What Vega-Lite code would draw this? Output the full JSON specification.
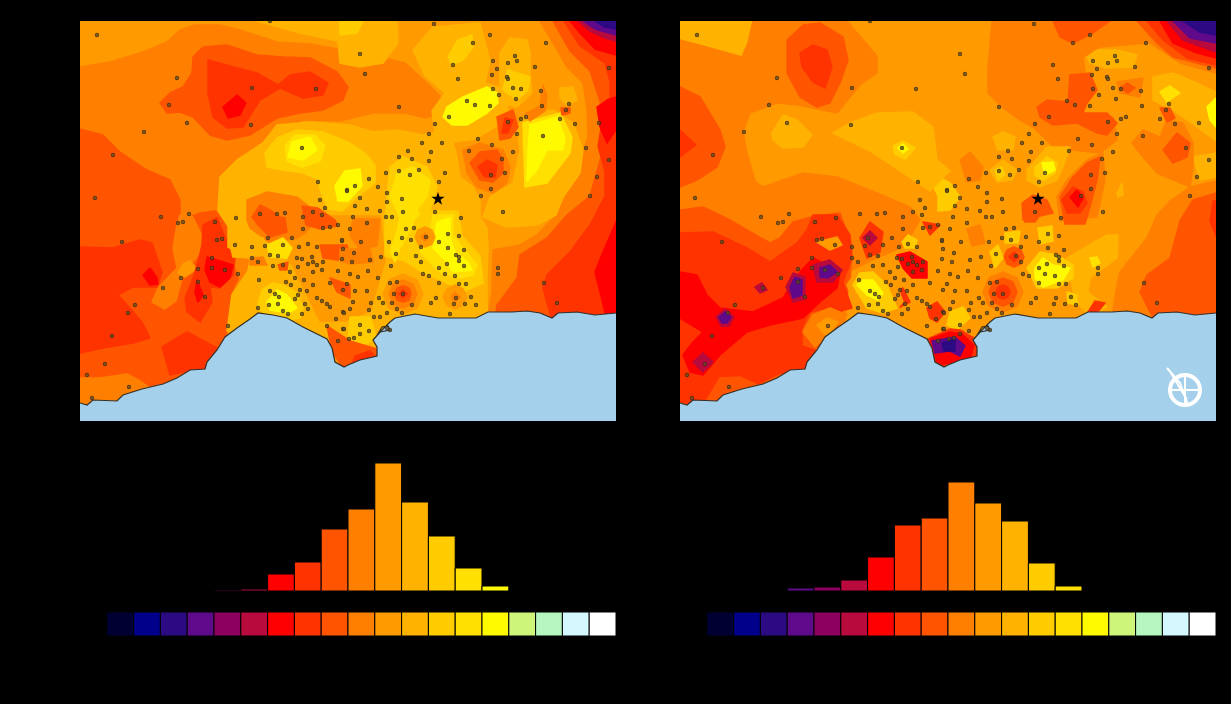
{"$schema":"https://vega.github.io/schema/vega-lite/v6.json","background":"#000000","padding":{"left":80,"top":21,"right":15,"bottom":68},"bounds":"flush","config":{"view":{"stroke":null}},"datasets":{
"page":[{"type":"Feature","geometry":{"type":"Polygon","coordinates":[[[-80,-21],[-77,-21],[-77,683],[-80,683],[-80,-21]]]}},{"type":"Feature","geometry":{"type":"Polygon","coordinates":[[[-80,-21],[1151,-21],[1151,-15],[-80,-15],[-80,-21]]]}}],
"sea":[{"type":"Feature","geometry":{"type":"Polygon","coordinates":[[[0,382],[7,384],[13,379],[37,380],[43,374],[62,368],[83,363],[97,357],[110,349],[125,348],[127,341],[137,329],[145,316],[157,307],[170,298],[178,292],[193,294],[207,297],[223,306],[247,318],[252,327],[255,341],[264,346],[268,344],[280,339],[297,335],[297,326],[293,319],[302,309],[310,301],[315,297],[335,293],[358,297],[377,297],[396,297],[408,291],[432,291],[447,290],[460,292],[472,297],[478,292],[497,291],[515,294],[536,292],[536,400],[0,400],[0,382]]]}}],
"coast":[{"type":"Feature","geometry":{"type":"MultiLineString","coordinates":[[[0,382],[7,384],[13,379],[37,380],[43,374],[62,368],[83,363],[97,357],[110,349],[125,348],[127,341],[137,329],[145,316],[157,307],[170,298],[178,292],[193,294],[207,297],[223,306],[247,318],[252,327],[255,341],[264,346],[268,344],[280,339],[297,335],[297,326],[293,319],[302,309],[310,301],[315,297],[335,293],[358,297],[377,297],[396,297],[408,291],[432,291],[447,290],[460,292],[472,297],[478,292],[497,291],[515,294],[536,292]],[[293,319],[300,311],[310,309],[308,305],[302,306],[296,316]]]}}],
"compass":[{"type":"Feature","geometry":{"type":"MultiLineString","coordinates":[[[487,347],[500,362],[508,384]],[[491,352],[504,374],[507,378]],[[505,353],[505,385]],[[489,369],[521,369]]]}}],
"compassCentre":[{"x":505,"y":369}],
"star":[{"x":358,"y":178}],
"stations":[{"x":17,"y":14},{"x":97,"y":57},{"x":89,"y":84},{"x":107,"y":102},{"x":64,"y":111},{"x":33,"y":134},{"x":15,"y":177},{"x":190,"y":0},{"x":172,"y":67},{"x":236,"y":68},{"x":171,"y":104},{"x":222,"y":127},{"x":238,"y":161},{"x":267,"y":169},{"x":240,"y":179},{"x":245,"y":187},{"x":109,"y":193},{"x":81,"y":196},{"x":156,"y":197},{"x":180,"y":193},{"x":197,"y":193},{"x":205,"y":192},{"x":223,"y":196},{"x":233,"y":191},{"x":242,"y":194},{"x":354,"y":3},{"x":410,"y":14},{"x":466,"y":22},{"x":393,"y":22},{"x":280,"y":33},{"x":435,"y":35},{"x":437,"y":40},{"x":413,"y":40},{"x":428,"y":42},{"x":373,"y":44},{"x":455,"y":46},{"x":417,"y":48},{"x":529,"y":47},{"x":285,"y":53},{"x":412,"y":54},{"x":427,"y":56},{"x":428,"y":58},{"x":378,"y":58},{"x":433,"y":67},{"x":441,"y":68},{"x":413,"y":68},{"x":461,"y":70},{"x":419,"y":74},{"x":436,"y":78},{"x":387,"y":80},{"x":395,"y":84},{"x":410,"y":85},{"x":462,"y":85},{"x":489,"y":83},{"x":319,"y":86},{"x":486,"y":89},{"x":369,"y":96},{"x":441,"y":98},{"x":446,"y":96},{"x":480,"y":98},{"x":428,"y":101},{"x":355,"y":103},{"x":495,"y":103},{"x":519,"y":102},{"x":349,"y":113},{"x":437,"y":113},{"x":463,"y":115},{"x":398,"y":118},{"x":342,"y":122},{"x":362,"y":122},{"x":412,"y":124},{"x":506,"y":127},{"x":389,"y":130},{"x":433,"y":131},{"x":328,"y":130},{"x":351,"y":131},{"x":319,"y":136},{"x":332,"y":138},{"x":422,"y":138},{"x":529,"y":139},{"x":349,"y":140},{"x":319,"y":150},{"x":339,"y":149},{"x":306,"y":152},{"x":330,"y":154},{"x":365,"y":152},{"x":425,"y":152},{"x":411,"y":154},{"x":517,"y":156},{"x":289,"y":158},{"x":359,"y":161},{"x":275,"y":165},{"x":298,"y":166},{"x":267,"y":170},{"x":411,"y":168},{"x":307,"y":172},{"x":280,"y":177},{"x":322,"y":178},{"x":401,"y":175},{"x":510,"y":175},{"x":307,"y":181},{"x":275,"y":185},{"x":287,"y":188},{"x":300,"y":190},{"x":323,"y":191},{"x":355,"y":191},{"x":423,"y":191},{"x":273,"y":196},{"x":306,"y":196},{"x":312,"y":196},{"x":381,"y":197},{"x":98,"y":202},{"x":103,"y":201},{"x":135,"y":201},{"x":42,"y":221},{"x":137,"y":219},{"x":142,"y":218},{"x":155,"y":224},{"x":172,"y":226},{"x":185,"y":225},{"x":203,"y":224},{"x":188,"y":217},{"x":212,"y":217},{"x":223,"y":208},{"x":243,"y":207},{"x":250,"y":206},{"x":258,"y":204},{"x":190,"y":234},{"x":198,"y":235},{"x":219,"y":226},{"x":228,"y":223},{"x":237,"y":226},{"x":262,"y":220},{"x":172,"y":237},{"x":178,"y":241},{"x":193,"y":245},{"x":203,"y":244},{"x":217,"y":237},{"x":222,"y":238},{"x":232,"y":236},{"x":233,"y":241},{"x":228,"y":243},{"x":237,"y":244},{"x":243,"y":241},{"x":218,"y":246},{"x":210,"y":251},{"x":233,"y":251},{"x":242,"y":249},{"x":258,"y":250},{"x":132,"y":237},{"x":132,"y":247},{"x":145,"y":249},{"x":118,"y":248},{"x":158,"y":253},{"x":101,"y":257},{"x":83,"y":267},{"x":118,"y":261},{"x":125,"y":276},{"x":55,"y":284},{"x":48,"y":292},{"x":32,"y":315},{"x":179,"y":259},{"x":206,"y":261},{"x":211,"y":264},{"x":215,"y":257},{"x":224,"y":259},{"x":233,"y":264},{"x":250,"y":262},{"x":220,"y":269},{"x":227,"y":270},{"x":218,"y":274},{"x":215,"y":278},{"x":190,"y":270},{"x":195,"y":273},{"x":199,"y":276},{"x":237,"y":277},{"x":242,"y":280},{"x":247,"y":283},{"x":250,"y":286},{"x":225,"y":283},{"x":228,"y":288},{"x":189,"y":284},{"x":198,"y":283},{"x":178,"y":287},{"x":203,"y":290},{"x":222,"y":293},{"x":263,"y":291},{"x":256,"y":298},{"x":247,"y":305},{"x":263,"y":308},{"x":148,"y":305},{"x":258,"y":320},{"x":25,"y":343},{"x":7,"y":354},{"x":49,"y":366},{"x":12,"y":377},{"x":208,"y":293},{"x":287,"y":202},{"x":270,"y":208},{"x":262,"y":219},{"x":281,"y":221},{"x":326,"y":208},{"x":334,"y":207},{"x":322,"y":217},{"x":331,"y":219},{"x":346,"y":216},{"x":368,"y":213},{"x":379,"y":215},{"x":359,"y":221},{"x":309,"y":221},{"x":341,"y":226},{"x":368,"y":227},{"x":384,"y":229},{"x":263,"y":228},{"x":274,"y":232},{"x":290,"y":239},{"x":301,"y":236},{"x":316,"y":233},{"x":336,"y":235},{"x":376,"y":234},{"x":379,"y":236},{"x":379,"y":240},{"x":341,"y":241},{"x":367,"y":243},{"x":384,"y":245},{"x":272,"y":241},{"x":262,"y":238},{"x":311,"y":245},{"x":359,"y":247},{"x":418,"y":247},{"x":418,"y":253},{"x":288,"y":250},{"x":270,"y":253},{"x":278,"y":256},{"x":298,"y":257},{"x":343,"y":253},{"x":349,"y":255},{"x":365,"y":253},{"x":375,"y":255},{"x":310,"y":262},{"x":317,"y":261},{"x":359,"y":262},{"x":379,"y":263},{"x":386,"y":263},{"x":464,"y":262},{"x":267,"y":263},{"x":263,"y":269},{"x":275,"y":270},{"x":287,"y":270},{"x":314,"y":273},{"x":323,"y":273},{"x":299,"y":277},{"x":273,"y":281},{"x":291,"y":282},{"x":303,"y":282},{"x":312,"y":282},{"x":332,"y":284},{"x":351,"y":282},{"x":356,"y":277},{"x":376,"y":277},{"x":391,"y":276},{"x":374,"y":283},{"x":385,"y":283},{"x":396,"y":284},{"x":477,"y":282},{"x":270,"y":288},{"x":289,"y":289},{"x":317,"y":288},{"x":322,"y":292},{"x":264,"y":292},{"x":307,"y":292},{"x":294,"y":296},{"x":300,"y":296},{"x":370,"y":293},{"x":280,"y":304},{"x":264,"y":308},{"x":289,"y":310},{"x":280,"y":313},{"x":269,"y":318},{"x":274,"y":317},{"x":307,"y":307},{"x":310,"y":309}],
"mapA":[
{"type":"Feature","properties":{"l":11},"geometry":{"type":"Polygon","coordinates":[[[0,0],[536,0],[536,400],[0,400],[0,0]]]}},
{"type":"Feature","properties":{"l":10},"geometry":{"type":"Polygon","coordinates":[[[0,46],[30,41],[63,31],[87,21],[100,9],[115,4],[140,4],[160,9],[197,21],[230,23],[270,30],[300,36],[325,42],[345,60],[360,75],[362,92],[345,97],[325,92],[293,92],[260,100],[223,99],[187,117],[157,139],[138,159],[140,189],[148,205],[148,226],[170,238],[168,250],[152,274],[147,310],[130,360],[0,400],[0,46]]]}},
{"type":"Feature","properties":{"l":9},"geometry":{"type":"Polygon","coordinates":[[[0,108],[23,114],[40,131],[67,149],[90,159],[100,179],[100,200],[120,192],[135,190],[148,198],[152,212],[148,228],[154,245],[158,258],[150,274],[147,307],[145,330],[130,360],[0,400],[0,108]]]}},
{"type":"Feature","properties":{"l":10},"geometry":{"type":"Polygon","coordinates":[[[100,194],[97,204],[93,227],[97,247],[78,267],[72,281],[85,288],[96,280],[103,254],[120,232],[122,215],[113,196],[100,194]]]}},
{"type":"Feature","properties":{"l":11},"geometry":{"type":"Polygon","coordinates":[[[103,243],[110,240],[117,248],[105,256],[98,252],[103,243]]]}},
{"type":"Feature","properties":{"l":8},"geometry":{"type":"Polygon","coordinates":[[[0,226],[33,227],[60,219],[72,222],[82,251],[77,266],[53,266],[38,274],[47,284],[62,301],[70,317],[53,322],[23,327],[0,332],[0,226]]]}},
{"type":"Feature","properties":{"l":8},"geometry":{"type":"Polygon","coordinates":[[[82,326],[107,311],[137,327],[125,341],[125,351],[103,351],[90,354],[82,326]]]}},
{"type":"Feature","properties":{"l":10},"geometry":{"type":"Polygon","coordinates":[[[0,357],[20,357],[47,353],[60,360],[70,367],[60,385],[0,392],[0,357]]]}},
{"type":"Feature","properties":{"l":7},"geometry":{"type":"Polygon","coordinates":[[[70,247],[77,257],[78,263],[70,264],[63,254],[70,247]]]}},
{"type":"Feature","properties":{"l":8},"geometry":{"type":"Polygon","coordinates":[[[123,204],[137,197],[147,221],[155,237],[153,254],[140,267],[130,266],[132,281],[120,301],[107,291],[105,277],[113,257],[118,241],[122,224],[123,204]]]}},
{"type":"Feature","properties":{"l":7},"geometry":{"type":"Polygon","coordinates":[[[127,236],[153,244],[150,257],[140,266],[130,261],[125,249],[127,236]]]}},
{"type":"Feature","properties":{"l":7},"geometry":{"type":"Polygon","coordinates":[[[117,259],[123,274],[118,281],[115,272],[117,259]]]}},
{"type":"Feature","properties":{"l":9},"geometry":{"type":"Polygon","coordinates":[[[80,82],[90,72],[103,66],[112,52],[113,36],[123,26],[147,24],[177,34],[203,36],[230,37],[257,51],[268,66],[263,79],[243,89],[220,92],[197,97],[170,114],[147,119],[130,114],[113,96],[100,91],[87,92],[80,82]]]}},
{"type":"Feature","properties":{"l":8},"geometry":{"type":"Polygon","coordinates":[[[128,39],[177,52],[198,64],[210,54],[230,51],[248,62],[243,74],[223,77],[200,67],[180,79],[163,106],[147,107],[133,96],[128,72],[128,39]]]}},
{"type":"Feature","properties":{"l":7},"geometry":{"type":"Polygon","coordinates":[[[143,86],[157,74],[166,82],[160,94],[148,97],[143,86]]]}},
{"type":"Feature","properties":{"l":12},"geometry":{"type":"Polygon","coordinates":[[[177,0],[317,0],[318,22],[303,42],[280,46],[260,42],[258,20],[220,12],[177,0]]]}},
{"type":"Feature","properties":{"l":13},"geometry":{"type":"Polygon","coordinates":[[[260,0],[283,0],[277,12],[260,14],[260,0]]]}},
{"type":"Feature","properties":{"l":10},"geometry":{"type":"Polygon","coordinates":[[[460,0],[473,22],[487,46],[503,62],[507,89],[508,116],[500,142],[493,162],[480,186],[473,197],[457,214],[440,224],[413,229],[412,270],[408,295],[536,300],[536,0],[460,0]]]}},
{"type":"Feature","properties":{"l":9},"geometry":{"type":"Polygon","coordinates":[[[473,0],[490,30],[510,50],[520,80],[525,110],[520,140],[510,175],[487,194],[467,217],[440,234],[437,257],[417,284],[415,300],[536,300],[536,0],[473,0]]]}},
{"type":"Feature","properties":{"l":8},"geometry":{"type":"Polygon","coordinates":[[[484,0],[500,25],[525,42],[530,60],[530,85],[523,95],[518,125],[525,150],[525,175],[510,204],[490,231],[467,254],[463,267],[472,300],[536,300],[536,0],[484,0]]]}},
{"type":"Feature","properties":{"l":7},"geometry":{"type":"Polygon","coordinates":[[[490,0],[500,12],[515,28],[536,34],[536,0],[490,0]]]}},
{"type":"Feature","properties":{"l":7},"geometry":{"type":"Polygon","coordinates":[[[517,86],[527,79],[536,76],[536,109],[527,122],[520,106],[517,86]]]}},
{"type":"Feature","properties":{"l":7},"geometry":{"type":"Polygon","coordinates":[[[536,201],[523,231],[515,251],[520,271],[527,300],[536,300],[536,201]]]}},
{"type":"Feature","properties":{"l":6},"geometry":{"type":"Polygon","coordinates":[[[498,0],[510,10],[525,17],[536,20],[536,0],[498,0]]]}},
{"type":"Feature","properties":{"l":4},"geometry":{"type":"Polygon","coordinates":[[[503,0],[515,8],[536,14],[536,0],[503,0]]]}},
{"type":"Feature","properties":{"l":3},"geometry":{"type":"Polygon","coordinates":[[[515,0],[525,6],[536,8],[536,0],[515,0]]]}},
{"type":"Feature","properties":{"l":12},"geometry":{"type":"Polygon","coordinates":[[[140,156],[157,139],[183,122],[197,104],[230,101],[270,104],[293,111],[317,109],[343,114],[353,112],[373,122],[377,136],[380,156],[393,166],[400,179],[400,196],[407,207],[408,227],[407,254],[407,284],[408,295],[300,340],[147,310],[152,274],[168,250],[170,238],[148,226],[148,205],[138,190],[140,156]]]}},
{"type":"Feature","properties":{"l":11},"geometry":{"type":"Polygon","coordinates":[[[205,195],[300,195],[305,240],[290,290],[265,300],[240,300],[225,270],[213,245],[200,225],[205,195]]]}},
{"type":"Feature","properties":{"l":10},"geometry":{"type":"Polygon","coordinates":[[[167,199],[167,179],[187,171],[217,176],[230,186],[237,199],[225,212],[217,217],[190,222],[170,207],[167,199]]]}},
{"type":"Feature","properties":{"l":9},"geometry":{"type":"Polygon","coordinates":[[[172,196],[180,184],[192,190],[200,196],[205,197],[207,211],[190,216],[178,204],[172,196]]]}},
{"type":"Feature","properties":{"l":9},"geometry":{"type":"Polygon","coordinates":[[[222,185],[238,187],[255,199],[258,205],[240,208],[226,204],[222,185]]]}},
{"type":"Feature","properties":{"l":10},"geometry":{"type":"Polygon","coordinates":[[[273,198],[300,198],[297,225],[280,228],[270,215],[273,198]]]}},
{"type":"Feature","properties":{"l":13},"geometry":{"type":"Polygon","coordinates":[[[185,132],[197,117],[217,109],[243,111],[270,122],[285,132],[295,144],[295,162],[277,176],[262,190],[248,188],[240,168],[238,158],[223,152],[203,149],[187,146],[185,132]]]}},
{"type":"Feature","properties":{"l":14},"geometry":{"type":"Polygon","coordinates":[[[205,125],[215,114],[235,114],[245,125],[240,140],[222,146],[207,140],[205,125]]]}},
{"type":"Feature","properties":{"l":15},"geometry":{"type":"Polygon","coordinates":[[[212,121],[230,116],[237,129],[223,139],[208,136],[212,121]]]}},
{"type":"Feature","properties":{"l":15},"geometry":{"type":"Polygon","coordinates":[[[255,165],[265,150],[280,148],[282,165],[268,180],[258,180],[255,165]]]}},
{"type":"Feature","properties":{"l":13},"geometry":{"type":"Polygon","coordinates":[[[310,146],[323,136],[347,146],[357,166],[348,196],[335,200],[325,240],[305,235],[305,200],[310,146]]]}},
{"type":"Feature","properties":{"l":14},"geometry":{"type":"Polygon","coordinates":[[[317,152],[333,146],[350,159],[347,176],[337,189],[340,194],[333,204],[320,227],[315,241],[310,231],[317,211],[320,196],[310,176],[317,152]]]}},
{"type":"Feature","properties":{"l":13},"geometry":{"type":"Polygon","coordinates":[[[335,200],[345,190],[378,190],[382,215],[400,235],[403,262],[385,270],[340,250],[325,240],[335,200]]]}},
{"type":"Feature","properties":{"l":14},"geometry":{"type":"Polygon","coordinates":[[[353,194],[373,194],[373,214],[383,227],[397,244],[393,254],[380,257],[360,251],[340,231],[350,214],[353,194]]]}},
{"type":"Feature","properties":{"l":15},"geometry":{"type":"Polygon","coordinates":[[[357,201],[370,197],[370,217],[375,231],[388,241],[392,249],[373,251],[367,241],[353,227],[357,201]]]}},
{"type":"Feature","properties":{"l":11},"geometry":{"type":"Polygon","coordinates":[[[303,273],[309,259],[323,253],[337,259],[343,273],[337,287],[323,293],[309,287],[303,273]]]}},
{"type":"Feature","properties":{"l":10},"geometry":{"type":"Polygon","coordinates":[[[309,273],[313,263],[323,259],[333,263],[337,273],[333,283],[323,287],[313,283],[309,273]]]}},
{"type":"Feature","properties":{"l":9},"geometry":{"type":"Polygon","coordinates":[[[315,273],[317,267],[323,265],[329,267],[331,273],[329,279],[323,281],[317,279],[315,273]]]}},
{"type":"Feature","properties":{"l":8},"geometry":{"type":"Polygon","coordinates":[[[319,273],[323,269],[327,273],[323,277],[319,273]]]}},
{"type":"Feature","properties":{"l":11},"geometry":{"type":"Polygon","coordinates":[[[363,276],[367,268],[375,264],[383,268],[387,276],[383,284],[375,288],[367,284],[363,276]]]}},
{"type":"Feature","properties":{"l":10},"geometry":{"type":"Polygon","coordinates":[[[371,276],[375,271],[380,276],[375,281],[371,276]]]}},
{"type":"Feature","properties":{"l":11},"geometry":{"type":"Polygon","coordinates":[[[335,216],[338,209],[345,206],[352,209],[355,216],[352,223],[345,226],[338,223],[335,216]]]}},
{"type":"Feature","properties":{"l":10},"geometry":{"type":"Polygon","coordinates":[[[341,216],[345,212],[349,216],[345,220],[341,216]]]}},
{"type":"Feature","properties":{"l":12},"geometry":{"type":"Polygon","coordinates":[[[403,196],[410,176],[433,162],[440,129],[437,106],[447,92],[473,89],[493,102],[503,129],[500,152],[483,176],[476,194],[457,204],[427,206],[403,196]]]}},
{"type":"Feature","properties":{"l":14},"geometry":{"type":"Polygon","coordinates":[[[445,166],[443,102],[480,92],[492,116],[490,132],[467,162],[445,166]]]}},
{"type":"Feature","properties":{"l":15},"geometry":{"type":"Polygon","coordinates":[[[450,104],[477,96],[485,117],[483,129],[467,129],[457,149],[447,160],[448,130],[450,104]]]}},
{"type":"Feature","properties":{"l":12},"geometry":{"type":"Polygon","coordinates":[[[333,29],[353,6],[400,2],[410,40],[405,62],[425,68],[428,90],[425,100],[395,118],[365,122],[355,112],[352,90],[365,72],[345,55],[333,29]]]}},
{"type":"Feature","properties":{"l":13},"geometry":{"type":"Polygon","coordinates":[[[368,36],[378,19],[392,14],[393,26],[383,39],[372,44],[368,36]]]}},
{"type":"Feature","properties":{"l":15},"geometry":{"type":"Polygon","coordinates":[[[367,86],[383,76],[407,66],[417,72],[418,82],[407,92],[387,104],[372,104],[363,96],[367,86]]]}},
{"type":"Feature","properties":{"l":12},"geometry":{"type":"Polygon","coordinates":[[[420,32],[430,17],[447,19],[450,32],[450,56],[452,72],[437,86],[420,82],[420,32]]]}},
{"type":"Feature","properties":{"l":13},"geometry":{"type":"Polygon","coordinates":[[[428,49],[450,56],[448,69],[437,79],[423,69],[428,49]]]}},
{"type":"Feature","properties":{"l":12},"geometry":{"type":"Polygon","coordinates":[[[480,67],[493,66],[497,79],[487,84],[480,77],[480,67]]]}},
{"type":"Feature","properties":{"l":10},"geometry":{"type":"Polygon","coordinates":[[[445,93],[460,85],[463,64],[467,75],[465,90],[450,100],[445,93]]]}},
{"type":"Feature","properties":{"l":9},"geometry":{"type":"Polygon","coordinates":[[[481,87],[490,87],[490,92],[482,94],[481,87]]]}},
{"type":"Feature","properties":{"l":9},"geometry":{"type":"Polygon","coordinates":[[[417,96],[433,89],[438,106],[430,117],[420,119],[417,96]]]}},
{"type":"Feature","properties":{"l":8},"geometry":{"type":"Polygon","coordinates":[[[425,97],[433,99],[428,112],[422,112],[425,97]]]}},
{"type":"Feature","properties":{"l":10},"geometry":{"type":"Polygon","coordinates":[[[383,129],[400,122],[423,129],[430,146],[427,162],[413,172],[397,166],[387,152],[383,129]]]}},
{"type":"Feature","properties":{"l":9},"geometry":{"type":"Polygon","coordinates":[[[390,142],[400,131],[417,129],[423,139],[423,152],[413,161],[400,159],[390,142]]]}},
{"type":"Feature","properties":{"l":8},"geometry":{"type":"Polygon","coordinates":[[[398,146],[407,139],[417,144],[415,156],[405,156],[398,146]]]}},
{"type":"Feature","properties":{"l":13},"geometry":{"type":"Polygon","coordinates":[[[177,287],[182,269],[193,262],[203,264],[217,272],[223,287],[220,297],[207,299],[190,295],[177,287]]]}},
{"type":"Feature","properties":{"l":15},"geometry":{"type":"Polygon","coordinates":[[[190,289],[187,281],[197,269],[207,274],[217,287],[208,292],[190,289]]]}},
{"type":"Feature","properties":{"l":12},"geometry":{"type":"Polygon","coordinates":[[[150,224],[163,212],[183,217],[190,237],[173,237],[153,236],[150,224]]]}},
{"type":"Feature","properties":{"l":14},"geometry":{"type":"Polygon","coordinates":[[[187,224],[203,217],[212,227],[207,237],[190,236],[187,224]]]}},
{"type":"Feature","properties":{"l":10},"geometry":{"type":"Polygon","coordinates":[[[170,237],[183,236],[187,244],[170,244],[170,237]]]}},
{"type":"Feature","properties":{"l":9},"geometry":{"type":"Polygon","coordinates":[[[198,244],[208,241],[207,249],[200,249],[198,244]]]}},
{"type":"Feature","properties":{"l":9},"geometry":{"type":"Polygon","coordinates":[[[240,224],[267,224],[270,237],[257,239],[243,237],[240,224]]]}},
{"type":"Feature","properties":{"l":9},"geometry":{"type":"Polygon","coordinates":[[[250,257],[270,264],[270,277],[257,271],[250,257]]]}},
{"type":"Feature","properties":{"l":10},"geometry":{"type":"Polygon","coordinates":[[[260,228],[290,228],[293,241],[270,243],[260,240],[260,228]]]}},
{"type":"Feature","properties":{"l":13},"geometry":{"type":"Polygon","coordinates":[[[270,296],[290,296],[297,318],[280,325],[268,320],[270,296]]]}},
{"type":"Feature","properties":{"l":9},"geometry":{"type":"Polygon","coordinates":[[[247,305],[270,320],[297,328],[298,340],[265,350],[252,330],[247,305]]]}},
{"type":"Feature","properties":{"l":8},"geometry":{"type":"Polygon","coordinates":[[[275,335],[290,330],[295,335],[272,343],[275,335]]]}}
],
"mapB":[
{"type":"Feature","properties":{"l":11},"geometry":{"type":"Polygon","coordinates":[[[0,0],[536,0],[536,400],[0,400],[0,0]]]}},
{"type":"Feature","properties":{"l":12},"geometry":{"type":"Polygon","coordinates":[[[0,0],[73,0],[68,22],[62,36],[30,27],[0,19],[0,0]]]}},
{"type":"Feature","properties":{"l":10},"geometry":{"type":"Polygon","coordinates":[[[0,19],[30,27],[62,36],[68,22],[73,0],[167,0],[197,35],[197,52],[180,64],[157,92],[118,84],[97,82],[70,92],[63,111],[67,132],[75,160],[83,166],[123,152],[157,156],[197,172],[230,186],[240,199],[225,225],[190,240],[170,250],[165,300],[0,400],[0,19]]]}},
{"type":"Feature","properties":{"l":12},"geometry":{"type":"Polygon","coordinates":[[[92,112],[103,94],[117,99],[132,114],[123,126],[103,127],[93,119],[92,112]]]}},
{"type":"Feature","properties":{"l":9},"geometry":{"type":"Polygon","coordinates":[[[107,19],[123,4],[140,2],[163,16],[168,39],[160,62],[150,82],[137,86],[120,76],[107,52],[107,19]]]}},
{"type":"Feature","properties":{"l":8},"geometry":{"type":"Polygon","coordinates":[[[120,32],[133,24],[147,29],[152,46],[145,67],[133,61],[122,46],[120,32]]]}},
{"type":"Feature","properties":{"l":9},"geometry":{"type":"Polygon","coordinates":[[[0,66],[20,76],[40,109],[45,126],[37,146],[17,159],[0,166],[0,66]]]}},
{"type":"Feature","properties":{"l":8},"geometry":{"type":"Polygon","coordinates":[[[0,109],[16,124],[0,136],[0,109]]]}},
{"type":"Feature","properties":{"l":9},"geometry":{"type":"Polygon","coordinates":[[[0,189],[23,186],[50,199],[67,209],[90,222],[100,217],[113,201],[135,195],[160,192],[172,225],[170,262],[158,305],[145,320],[100,360],[0,400],[0,189]]]}},
{"type":"Feature","properties":{"l":8},"geometry":{"type":"Polygon","coordinates":[[[0,212],[33,211],[67,227],[90,241],[117,222],[127,209],[133,194],[157,194],[170,214],[172,237],[163,261],[172,287],[157,291],[147,287],[130,291],[122,307],[122,325],[137,330],[125,345],[125,352],[100,352],[80,362],[40,376],[10,382],[0,382],[0,212]]]}},
{"type":"Feature","properties":{"l":7},"geometry":{"type":"Polygon","coordinates":[[[0,251],[17,254],[27,274],[40,287],[73,291],[103,277],[120,251],[133,237],[160,251],[157,267],[140,281],[123,297],[90,304],[67,311],[40,334],[23,354],[10,351],[3,334],[13,321],[23,311],[0,297],[0,251]]]}},
{"type":"Feature","properties":{"l":9},"geometry":{"type":"Polygon","coordinates":[[[27,379],[40,357],[60,356],[77,364],[40,377],[27,379]]]}},
{"type":"Feature","properties":{"l":10},"geometry":{"type":"Polygon","coordinates":[[[123,311],[133,294],[150,287],[167,294],[145,317],[135,326],[123,311]]]}},
{"type":"Feature","properties":{"l":11},"geometry":{"type":"Polygon","coordinates":[[[137,304],[147,297],[158,301],[147,316],[137,304]]]}},
{"type":"Feature","properties":{"l":6},"geometry":{"type":"Polygon","coordinates":[[[133,244],[150,239],[162,249],[153,261],[137,261],[133,244]]]}},
{"type":"Feature","properties":{"l":4},"geometry":{"type":"Polygon","coordinates":[[[140,247],[150,244],[157,251],[148,257],[140,256],[140,247]]]}},
{"type":"Feature","properties":{"l":6},"geometry":{"type":"Polygon","coordinates":[[[106,266],[113,252],[125,256],[125,278],[113,281],[106,266]]]}},
{"type":"Feature","properties":{"l":4},"geometry":{"type":"Polygon","coordinates":[[[110,266],[115,256],[122,259],[122,274],[113,277],[110,266]]]}},
{"type":"Feature","properties":{"l":6},"geometry":{"type":"Polygon","coordinates":[[[36,296],[45,288],[54,296],[49,305],[41,305],[36,296]]]}},
{"type":"Feature","properties":{"l":4},"geometry":{"type":"Polygon","coordinates":[[[39,296],[45,291],[51,296],[47,302],[42,302],[39,296]]]}},
{"type":"Feature","properties":{"l":6},"geometry":{"type":"Polygon","coordinates":[[[13,341],[23,332],[33,341],[23,351],[13,341]]]}},
{"type":"Feature","properties":{"l":6},"geometry":{"type":"Polygon","coordinates":[[[75,266],[82,262],[87,269],[80,272],[75,266]]]}},
{"type":"Feature","properties":{"l":10},"geometry":{"type":"Polygon","coordinates":[[[312,0],[463,0],[467,22],[420,26],[403,36],[405,52],[403,76],[400,92],[433,96],[437,119],[420,132],[393,129],[377,129],[353,106],[340,99],[323,87],[308,72],[308,46],[312,0]]]}},
{"type":"Feature","properties":{"l":9},"geometry":{"type":"Polygon","coordinates":[[[373,0],[430,0],[413,12],[393,22],[380,16],[373,0]]]}},
{"type":"Feature","properties":{"l":9},"geometry":{"type":"Polygon","coordinates":[[[357,86],[367,79],[388,81],[390,54],[410,52],[417,69],[407,82],[403,92],[427,92],[437,102],[427,114],[417,112],[397,102],[373,104],[360,96],[357,86]]]}},
{"type":"Feature","properties":{"l":12},"geometry":{"type":"Polygon","coordinates":[[[407,36],[417,29],[437,29],[457,34],[453,46],[427,47],[410,42],[407,36]]]}},
{"type":"Feature","properties":{"l":10},"geometry":{"type":"Polygon","coordinates":[[[437,61],[463,57],[460,76],[440,72],[437,61]]]}},
{"type":"Feature","properties":{"l":9},"geometry":{"type":"Polygon","coordinates":[[[440,67],[447,62],[455,67],[448,72],[440,67]]]}},
{"type":"Feature","properties":{"l":10},"geometry":{"type":"Polygon","coordinates":[[[440,0],[470,22],[500,42],[536,52],[536,0],[440,0]]]}},
{"type":"Feature","properties":{"l":9},"geometry":{"type":"Polygon","coordinates":[[[457,0],[477,22],[493,36],[536,47],[536,0],[457,0]]]}},
{"type":"Feature","properties":{"l":8},"geometry":{"type":"Polygon","coordinates":[[[467,0],[483,19],[507,37],[536,44],[536,0],[467,0]]]}},
{"type":"Feature","properties":{"l":7},"geometry":{"type":"Polygon","coordinates":[[[480,0],[493,22],[517,32],[536,37],[536,0],[480,0]]]}},
{"type":"Feature","properties":{"l":6},"geometry":{"type":"Polygon","coordinates":[[[487,0],[503,19],[536,31],[536,0],[487,0]]]}},
{"type":"Feature","properties":{"l":4},"geometry":{"type":"Polygon","coordinates":[[[493,0],[510,17],[536,22],[536,0],[493,0]]]}},
{"type":"Feature","properties":{"l":3},"geometry":{"type":"Polygon","coordinates":[[[503,0],[520,11],[536,14],[536,0],[503,0]]]}},
{"type":"Feature","properties":{"l":12},"geometry":{"type":"Polygon","coordinates":[[[473,56],[493,52],[517,62],[536,71],[536,120],[517,106],[493,89],[473,79],[473,56]]]}},
{"type":"Feature","properties":{"l":14},"geometry":{"type":"Polygon","coordinates":[[[480,71],[490,65],[500,72],[487,81],[480,71]]]}},
{"type":"Feature","properties":{"l":15},"geometry":{"type":"Polygon","coordinates":[[[527,86],[536,77],[536,106],[530,99],[527,86]]]}},
{"type":"Feature","properties":{"l":12},"geometry":{"type":"Polygon","coordinates":[[[513,136],[536,132],[536,156],[520,159],[513,136]]]}},
{"type":"Feature","properties":{"l":10},"geometry":{"type":"Polygon","coordinates":[[[452,122],[463,109],[480,116],[487,99],[503,102],[513,122],[513,146],[510,166],[477,152],[463,136],[452,122]]]}},
{"type":"Feature","properties":{"l":9},"geometry":{"type":"Polygon","coordinates":[[[483,129],[497,112],[510,122],[507,136],[493,142],[483,129]]]}},
{"type":"Feature","properties":{"l":9},"geometry":{"type":"Polygon","coordinates":[[[480,87],[490,87],[495,97],[487,101],[480,87]]]}},
{"type":"Feature","properties":{"l":10},"geometry":{"type":"Polygon","coordinates":[[[477,194],[467,217],[440,251],[437,264],[432,295],[536,300],[536,160],[510,166],[490,180],[477,194]]]}},
{"type":"Feature","properties":{"l":9},"geometry":{"type":"Polygon","coordinates":[[[500,200],[490,237],[467,254],[460,271],[473,297],[536,300],[536,172],[513,179],[500,200]]]}},
{"type":"Feature","properties":{"l":8},"geometry":{"type":"Polygon","coordinates":[[[533,180],[536,180],[536,215],[530,200],[533,180]]]}},
{"type":"Feature","properties":{"l":12},"geometry":{"type":"Polygon","coordinates":[[[387,237],[427,214],[438,214],[437,237],[410,257],[408,271],[427,286],[410,295],[395,280],[387,237]]]}},
{"type":"Feature","properties":{"l":14},"geometry":{"type":"Polygon","coordinates":[[[410,237],[417,236],[420,242],[413,246],[410,237]]]}},
{"type":"Feature","properties":{"l":13},"geometry":{"type":"Polygon","coordinates":[[[347,247],[360,231],[377,234],[393,244],[393,257],[377,267],[357,267],[347,247]]]}},
{"type":"Feature","properties":{"l":15},"geometry":{"type":"Polygon","coordinates":[[[355,247],[363,237],[373,244],[390,247],[383,259],[363,266],[355,257],[355,247]]]}},
{"type":"Feature","properties":{"l":13},"geometry":{"type":"Polygon","coordinates":[[[387,271],[397,274],[397,284],[388,282],[387,271]]]}},
{"type":"Feature","properties":{"l":10},"geometry":{"type":"Polygon","coordinates":[[[303,271],[309,257],[323,251],[337,257],[343,271],[337,285],[323,291],[309,285],[303,271]]]}},
{"type":"Feature","properties":{"l":9},"geometry":{"type":"Polygon","coordinates":[[[309,271],[313,261],[323,257],[333,261],[337,271],[333,281],[323,285],[313,281],[309,271]]]}},
{"type":"Feature","properties":{"l":8},"geometry":{"type":"Polygon","coordinates":[[[316,271],[318,266],[323,264],[328,266],[330,271],[328,276],[323,278],[318,276],[316,271]]]}},
{"type":"Feature","properties":{"l":9},"geometry":{"type":"Polygon","coordinates":[[[324,236],[327,229],[334,226],[341,229],[344,236],[341,243],[334,246],[327,243],[324,236]]]}},
{"type":"Feature","properties":{"l":8},"geometry":{"type":"Polygon","coordinates":[[[329,236],[334,231],[339,236],[334,241],[329,236]]]}},
{"type":"Feature","properties":{"l":8},"geometry":{"type":"Polygon","coordinates":[[[405,296],[415,280],[425,282],[412,298],[405,296]]]}},
{"type":"Feature","properties":{"l":9},"geometry":{"type":"Polygon","coordinates":[[[343,194],[360,194],[355,201],[345,201],[343,194]]]}},
{"type":"Feature","properties":{"l":10},"geometry":{"type":"Polygon","coordinates":[[[377,176],[387,159],[407,139],[423,132],[425,159],[417,196],[380,200],[377,176]]]}},
{"type":"Feature","properties":{"l":9},"geometry":{"type":"Polygon","coordinates":[[[380,176],[393,156],[407,142],[420,136],[417,159],[410,186],[405,203],[385,203],[380,176]]]}},
{"type":"Feature","properties":{"l":8},"geometry":{"type":"Polygon","coordinates":[[[382,179],[393,166],[403,171],[407,182],[400,192],[387,192],[382,179]]]}},
{"type":"Feature","properties":{"l":7},"geometry":{"type":"Polygon","coordinates":[[[390,176],[397,169],[403,177],[398,186],[390,176]]]}},
{"type":"Feature","properties":{"l":9},"geometry":{"type":"Polygon","coordinates":[[[342,182],[353,174],[367,179],[373,192],[343,199],[342,182]]]}},
{"type":"Feature","properties":{"l":10},"geometry":{"type":"Polygon","coordinates":[[[280,139],[290,131],[303,146],[300,159],[287,161],[280,139]]]}},
{"type":"Feature","properties":{"l":12},"geometry":{"type":"Polygon","coordinates":[[[313,116],[323,111],[335,116],[333,129],[318,129],[313,116]]]}},
{"type":"Feature","properties":{"l":12},"geometry":{"type":"Polygon","coordinates":[[[347,149],[367,126],[390,126],[383,146],[377,159],[360,166],[347,159],[347,149]]]}},
{"type":"Feature","properties":{"l":13},"geometry":{"type":"Polygon","coordinates":[[[355,146],[367,136],[377,142],[375,152],[363,159],[355,154],[355,146]]]}},
{"type":"Feature","properties":{"l":15},"geometry":{"type":"Polygon","coordinates":[[[362,142],[373,141],[375,149],[365,154],[362,142]]]}},
{"type":"Feature","properties":{"l":12},"geometry":{"type":"Polygon","coordinates":[[[310,149],[323,139],[337,149],[332,159],[317,161],[310,149]]]}},
{"type":"Feature","properties":{"l":13},"geometry":{"type":"Polygon","coordinates":[[[315,149],[322,146],[325,154],[318,159],[315,149]]]}},
{"type":"Feature","properties":{"l":13},"geometry":{"type":"Polygon","coordinates":[[[253,165],[260,157],[270,162],[280,176],[270,189],[258,190],[258,175],[253,165]]]}},
{"type":"Feature","properties":{"l":12},"geometry":{"type":"Polygon","coordinates":[[[437,172],[442,162],[443,174],[438,176],[437,172]]]}},
{"type":"Feature","properties":{"l":12},"geometry":{"type":"Polygon","coordinates":[[[153,112],[170,102],[197,92],[233,91],[253,106],[257,139],[270,150],[250,170],[235,160],[190,130],[153,112]]]}},
{"type":"Feature","properties":{"l":13},"geometry":{"type":"Polygon","coordinates":[[[213,125],[223,120],[235,127],[225,138],[215,133],[213,125]]]}},
{"type":"Feature","properties":{"l":15},"geometry":{"type":"Polygon","coordinates":[[[218,127],[223,123],[228,128],[223,132],[218,127]]]}},
{"type":"Feature","properties":{"l":8},"geometry":{"type":"Polygon","coordinates":[[[180,217],[190,201],[203,211],[200,231],[187,237],[180,217]]]}},
{"type":"Feature","properties":{"l":6},"geometry":{"type":"Polygon","coordinates":[[[183,217],[190,210],[197,217],[190,224],[183,217]]]}},
{"type":"Feature","properties":{"l":13},"geometry":{"type":"Polygon","coordinates":[[[222,221],[228,214],[237,219],[235,227],[225,227],[222,221]]]}},
{"type":"Feature","properties":{"l":11},"geometry":{"type":"Polygon","coordinates":[[[137,221],[157,216],[162,224],[150,229],[137,221]]]}},
{"type":"Feature","properties":{"l":8},"geometry":{"type":"Polygon","coordinates":[[[142,199],[157,194],[158,204],[147,209],[142,199]]]}},
{"type":"Feature","properties":{"l":7},"geometry":{"type":"Polygon","coordinates":[[[217,234],[230,231],[247,241],[247,257],[232,257],[223,247],[217,234]]]}},
{"type":"Feature","properties":{"l":8},"geometry":{"type":"Polygon","coordinates":[[[213,272],[223,267],[230,281],[220,286],[213,272]]]}},
{"type":"Feature","properties":{"l":8},"geometry":{"type":"Polygon","coordinates":[[[247,287],[257,281],[265,291],[257,301],[250,297],[247,287]]]}},
{"type":"Feature","properties":{"l":8},"geometry":{"type":"Polygon","coordinates":[[[243,201],[260,204],[250,214],[243,201]]]}},
{"type":"Feature","properties":{"l":11},"geometry":{"type":"Polygon","coordinates":[[[167,264],[177,249],[193,244],[213,254],[223,281],[210,294],[190,294],[177,289],[167,264]]]}},
{"type":"Feature","properties":{"l":13},"geometry":{"type":"Polygon","coordinates":[[[173,264],[180,252],[193,251],[207,264],[217,287],[203,292],[187,287],[173,264]]]}},
{"type":"Feature","properties":{"l":15},"geometry":{"type":"Polygon","coordinates":[[[177,264],[183,259],[193,259],[203,272],[198,279],[187,274],[177,264]]]}},
{"type":"Feature","properties":{"l":13},"geometry":{"type":"Polygon","coordinates":[[[270,291],[283,286],[290,297],[277,309],[267,304],[270,291]]]}},
{"type":"Feature","properties":{"l":13},"geometry":{"type":"Polygon","coordinates":[[[310,231],[318,224],[323,237],[315,247],[310,231]]]}},
{"type":"Feature","properties":{"l":13},"geometry":{"type":"Polygon","coordinates":[[[325,212],[340,210],[338,222],[325,222],[325,212]]]}},
{"type":"Feature","properties":{"l":13},"geometry":{"type":"Polygon","coordinates":[[[358,207],[372,205],[373,220],[360,223],[358,207]]]}},
{"type":"Feature","properties":{"l":10},"geometry":{"type":"Polygon","coordinates":[[[287,208],[300,204],[305,222],[292,225],[287,208]]]}},
{"type":"Feature","properties":{"l":8},"geometry":{"type":"Polygon","coordinates":[[[248,318],[270,308],[280,309],[297,319],[298,340],[280,345],[263,350],[255,345],[248,318]]]}},
{"type":"Feature","properties":{"l":7},"geometry":{"type":"Polygon","coordinates":[[[250,318],[270,311],[282,313],[294,324],[290,338],[275,341],[258,344],[250,318]]]}},
{"type":"Feature","properties":{"l":4},"geometry":{"type":"Polygon","coordinates":[[[252,320],[275,316],[285,325],[280,335],[270,330],[255,332],[252,320]]]}},
{"type":"Feature","properties":{"l":3},"geometry":{"type":"Polygon","coordinates":[[[262,322],[275,318],[275,330],[264,330],[262,322]]]}}
],
"histA":[{"level":5,"next":6,"count":1},{"level":6,"next":7,"count":2},{"level":7,"next":8,"count":17},{"level":8,"next":9,"count":29},{"level":9,"next":10,"count":62},{"level":10,"next":11,"count":82},{"level":11,"next":12,"count":128},{"level":12,"next":13,"count":89},{"level":13,"next":14,"count":55},{"level":14,"next":15,"count":23},{"level":15,"next":16,"count":5}],
"histB":[{"level":4,"next":5,"count":3},{"level":5,"next":6,"count":4},{"level":6,"next":7,"count":11},{"level":7,"next":8,"count":34},{"level":8,"next":9,"count":66},{"level":9,"next":10,"count":73},{"level":10,"next":11,"count":109},{"level":11,"next":12,"count":88},{"level":12,"next":13,"count":70},{"level":13,"next":14,"count":28},{"level":14,"next":15,"count":5}],
"bar":[{"level":1,"next":2},{"level":2,"next":3},{"level":3,"next":4},{"level":4,"next":5},{"level":5,"next":6},{"level":6,"next":7},{"level":7,"next":8},{"level":8,"next":9},{"level":9,"next":10},{"level":10,"next":11},{"level":11,"next":12},{"level":12,"next":13},{"level":13,"next":14},{"level":14,"next":15},{"level":15,"next":16},{"level":16,"next":17},{"level":17,"next":18},{"level":18,"next":19},{"level":19,"next":20}]
},
"columns":2,"spacing":{"row":21,"column":64},
"concat":[
{"width":536,"height":400,"projection":{"type":"identity","scale":1,"translate":[0,0]},"layer":[
{"data":{"name":"page"},"mark":{"type":"geoshape","fill":"#ffffff","stroke":null},"encoding":{}},
{"data":{"name":"mapA"},"mark":{"type":"geoshape","strokeWidth":1.5,"strokeJoin":"round"},"encoding":{"fill":{"field":"properties.l","type":"ordinal","legend":null,"scale":{"domain":[1,2,3,4,5,6,7,8,9,10,11,12,13,14,15,16,17,18,19],"range":["#000033","#00008b","#2b0a84","#5e0a8a","#8c0060","#b80a3c","#ff0000","#ff3300","#ff5500","#ff8000","#ff9a00","#ffb300","#ffcc00","#ffe000","#fffa00","#ccf57a","#b5f5c0","#d5f8ff","#ffffff"]}},"stroke":{"field":"properties.l","type":"ordinal","legend":null,"scale":{"domain":[1,2,3,4,5,6,7,8,9,10,11,12,13,14,15,16,17,18,19],"range":["#000033","#00008b","#2b0a84","#5e0a8a","#8c0060","#b80a3c","#ff0000","#ff3300","#ff5500","#ff8000","#ff9a00","#ffb300","#ffcc00","#ffe000","#fffa00","#ccf57a","#b5f5c0","#d5f8ff","#ffffff"]}}}},
{"data":{"name":"sea"},"mark":{"type":"geoshape","fill":"#a5d0ec","stroke":null},"encoding":{}},
{"data":{"name":"coast"},"mark":{"type":"geoshape","filled":false,"stroke":"#33302a","strokeWidth":1.2},"encoding":{}},
{"data":{"name":"stations"},"mark":{"type":"point","size":10,"filled":true,"fill":"#7a5a10","stroke":"#3a3020","strokeWidth":1.2,"opacity":0.8},"encoding":{"longitude":{"field":"x","type":"quantitative"},"latitude":{"field":"y","type":"quantitative"}}},
{"data":{"name":"star"},"mark":{"type":"point","filled":true,"fill":"#000000","stroke":null,"opacity":1,"size":196,"shape":"M0,-1L0.224,-0.309L0.951,-0.309L0.363,0.118L0.588,0.809L0,0.382L-0.588,0.809L-0.363,0.118L-0.951,-0.309L-0.224,-0.309Z"},"encoding":{"longitude":{"field":"x","type":"quantitative"},"latitude":{"field":"y","type":"quantitative"}}}
]},
{"width":536,"height":400,"projection":{"type":"identity","scale":1,"translate":[0,0]},"layer":[
{"data":{"name":"mapB"},"mark":{"type":"geoshape","strokeWidth":1.5,"strokeJoin":"round"},"encoding":{"fill":{"field":"properties.l","type":"ordinal","legend":null,"scale":{"domain":[1,2,3,4,5,6,7,8,9,10,11,12,13,14,15,16,17,18,19],"range":["#000033","#00008b","#2b0a84","#5e0a8a","#8c0060","#b80a3c","#ff0000","#ff3300","#ff5500","#ff8000","#ff9a00","#ffb300","#ffcc00","#ffe000","#fffa00","#ccf57a","#b5f5c0","#d5f8ff","#ffffff"]}},"stroke":{"field":"properties.l","type":"ordinal","legend":null,"scale":{"domain":[1,2,3,4,5,6,7,8,9,10,11,12,13,14,15,16,17,18,19],"range":["#000033","#00008b","#2b0a84","#5e0a8a","#8c0060","#b80a3c","#ff0000","#ff3300","#ff5500","#ff8000","#ff9a00","#ffb300","#ffcc00","#ffe000","#fffa00","#ccf57a","#b5f5c0","#d5f8ff","#ffffff"]}}}},
{"data":{"name":"sea"},"mark":{"type":"geoshape","fill":"#a5d0ec","stroke":null},"encoding":{}},
{"data":{"name":"coast"},"mark":{"type":"geoshape","filled":false,"stroke":"#33302a","strokeWidth":1.2},"encoding":{}},
{"data":{"name":"stations"},"mark":{"type":"point","size":10,"filled":true,"fill":"#7a5a10","stroke":"#3a3020","strokeWidth":1.2,"opacity":0.8},"encoding":{"longitude":{"field":"x","type":"quantitative"},"latitude":{"field":"y","type":"quantitative"}}},
{"data":{"name":"star"},"mark":{"type":"point","filled":true,"fill":"#000000","stroke":null,"opacity":1,"size":196,"shape":"M0,-1L0.224,-0.309L0.951,-0.309L0.363,0.118L0.588,0.809L0,0.382L-0.588,0.809L-0.363,0.118L-0.951,-0.309L-0.224,-0.309Z"},"encoding":{"longitude":{"field":"x","type":"quantitative"},"latitude":{"field":"y","type":"quantitative"}}},
{"data":{"name":"compass"},"mark":{"type":"geoshape","filled":false,"stroke":"#ffffff","strokeWidth":2},"encoding":{}},
{"data":{"name":"compassCentre"},"mark":{"type":"point","size":900,"stroke":"#ffffff","strokeWidth":4,"opacity":1},"encoding":{"longitude":{"field":"x","type":"quantitative"},"latitude":{"field":"y","type":"quantitative"}}}
]},
{"width":536,"height":149,"data":{"name":"histA"},"mark":{"type":"rect","stroke":"#000000","strokeWidth":1},"encoding":{"x":{"field":"level","type":"quantitative","axis":null,"scale":{"domain":[0,20],"nice":false,"zero":false}},"x2":{"field":"next"},"y":{"field":"count","type":"quantitative","axis":null,"scale":{"domain":[0,149],"nice":false}},"y2":{"datum":0},"fill":{"field":"level","type":"ordinal","legend":null,"scale":{"domain":[1,2,3,4,5,6,7,8,9,10,11,12,13,14,15,16,17,18,19],"range":["#000033","#00008b","#2b0a84","#5e0a8a","#8c0060","#b80a3c","#ff0000","#ff3300","#ff5500","#ff8000","#ff9a00","#ffb300","#ffcc00","#ffe000","#fffa00","#ccf57a","#b5f5c0","#d5f8ff","#ffffff"]}}}},
{"width":536,"height":149,"data":{"name":"histB"},"mark":{"type":"rect","stroke":"#000000","strokeWidth":1},"encoding":{"x":{"field":"level","type":"quantitative","axis":null,"scale":{"domain":[0,20],"nice":false,"zero":false}},"x2":{"field":"next"},"y":{"field":"count","type":"quantitative","axis":null,"scale":{"domain":[0,149],"nice":false}},"y2":{"datum":0},"fill":{"field":"level","type":"ordinal","legend":null,"scale":{"domain":[1,2,3,4,5,6,7,8,9,10,11,12,13,14,15,16,17,18,19],"range":["#000033","#00008b","#2b0a84","#5e0a8a","#8c0060","#b80a3c","#ff0000","#ff3300","#ff5500","#ff8000","#ff9a00","#ffb300","#ffcc00","#ffe000","#fffa00","#ccf57a","#b5f5c0","#d5f8ff","#ffffff"]}}}},
{"width":536,"height":24,"data":{"name":"bar"},"mark":{"type":"rect","stroke":"#000000","strokeWidth":1},"encoding":{"x":{"field":"level","type":"quantitative","axis":null,"scale":{"domain":[0,20],"nice":false,"zero":false}},"x2":{"field":"next"},"fill":{"field":"level","type":"ordinal","legend":null,"scale":{"domain":[1,2,3,4,5,6,7,8,9,10,11,12,13,14,15,16,17,18,19],"range":["#000033","#00008b","#2b0a84","#5e0a8a","#8c0060","#b80a3c","#ff0000","#ff3300","#ff5500","#ff8000","#ff9a00","#ffb300","#ffcc00","#ffe000","#fffa00","#ccf57a","#b5f5c0","#d5f8ff","#ffffff"]}}}},
{"width":536,"height":24,"data":{"name":"bar"},"mark":{"type":"rect","stroke":"#000000","strokeWidth":1},"encoding":{"x":{"field":"level","type":"quantitative","axis":null,"scale":{"domain":[0,20],"nice":false,"zero":false}},"x2":{"field":"next"},"fill":{"field":"level","type":"ordinal","legend":null,"scale":{"domain":[1,2,3,4,5,6,7,8,9,10,11,12,13,14,15,16,17,18,19],"range":["#000033","#00008b","#2b0a84","#5e0a8a","#8c0060","#b80a3c","#ff0000","#ff3300","#ff5500","#ff8000","#ff9a00","#ffb300","#ffcc00","#ffe000","#fffa00","#ccf57a","#b5f5c0","#d5f8ff","#ffffff"]}}}}
]}
